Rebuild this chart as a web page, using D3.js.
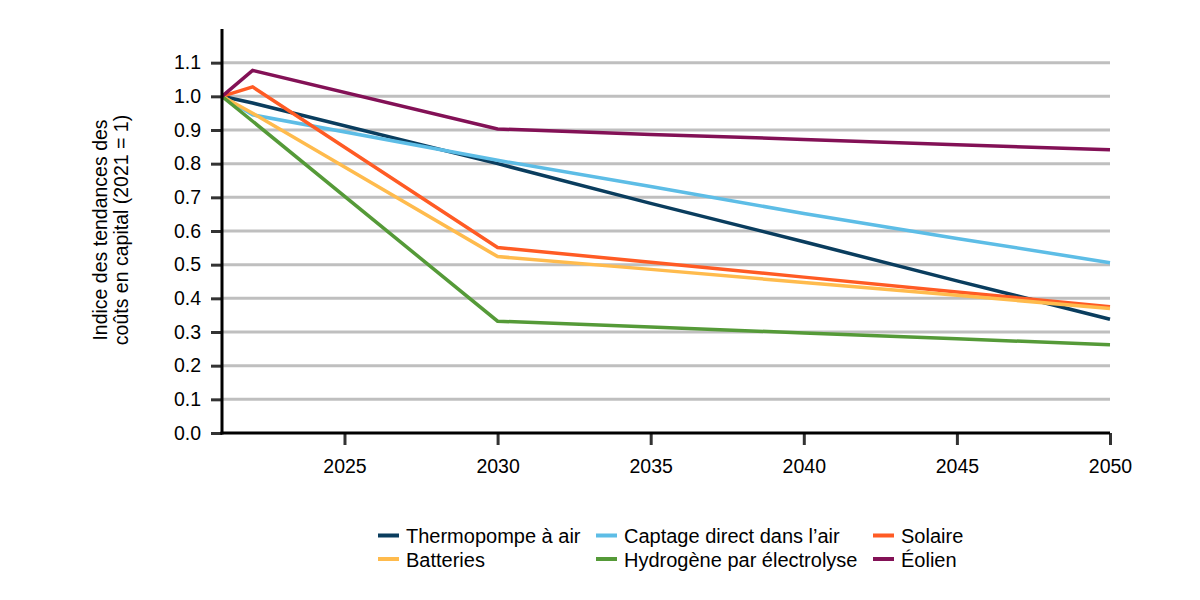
<!DOCTYPE html>
<html><head><meta charset="utf-8">
<script src="https://cdn.jsdelivr.net/npm/d3@7"></script>
<style>body{margin:0;background:#fff}svg{font-family:"Liberation Sans",Arial,sans-serif}</style>
</head><body><svg id="c" width="1200" height="600"></svg>
<script>
const years = [2021, 2022, 2030, 2035, 2040, 2045, 2050];
const seriesNames = ["Thermopompe à air","Captage direct dans l’air","Solaire","Batteries","Hydrogène par électrolyse","Éolien"];
const thermopompe = [1.0, 0.98, 0.80, 0.682, 0.568, 0.452, 0.338];
const captage     = [1.0, 0.945, 0.81, 0.732, 0.652, 0.578, 0.506];
const solaire     = [1.0, 1.028, 0.551, 0.507, 0.463, 0.419, 0.375];
const batteries   = [1.0, 0.95, 0.524, 0.486, 0.447, 0.409, 0.37];
const hydrogene   = [1.0, 0.926, 0.332, 0.315, 0.297, 0.28, 0.262];
const eolien      = [1.0, 1.077, 0.903, 0.887, 0.872, 0.856, 0.841];
const colors = ["#0a3d5e","#5dbde6","#ff5b24","#ffbb4d","#559a38","#831156"];
const yTicks = [0,0.1,0.2,0.3,0.4,0.5,0.6,0.7,0.8,0.9,1.0,1.1];
const xTicks = [2025,2030,2035,2040,2045,2050];

const data = [thermopompe,captage,solaire,batteries,hydrogene,eolien];
const svg = d3.select("#c");
const x = d3.scaleLinear().domain([2021,2050]).range([222,1110]);
const y = d3.scaleLinear().domain([0,1.2]).range([433,29]);
const FS = 19.5;

// gridlines
svg.append("g").selectAll("line").data(yTicks.filter(d=>d>0)).join("line")
  .attr("x1",x(2021)).attr("x2",x(2050)).attr("y1",d=>y(d)).attr("y2",d=>y(d))
  .attr("stroke","#bfbfbf").attr("stroke-width",3);

// y axis
const ya = svg.append("g").attr("transform",`translate(${x(2021)},0)`)
  .call(d3.axisLeft(y).tickValues(yTicks).tickFormat(d3.format(".1f")).tickSize(11).tickPadding(10));
ya.select(".domain").remove();
ya.selectAll(".tick line").attr("stroke","#333").attr("stroke-width",3);
ya.selectAll(".tick text").attr("font-size",FS).attr("fill","#000").attr("font-family","Liberation Sans, Arial, sans-serif");

// x axis
const xa = svg.append("g").attr("transform",`translate(0,${y(0)})`)
  .call(d3.axisBottom(x).tickValues(xTicks).tickFormat(d3.format("d")).tickSize(12).tickPadding(14));
xa.select(".domain").remove();
xa.selectAll(".tick line").attr("stroke","#333").attr("stroke-width",3);
xa.selectAll(".tick text").attr("font-size",FS).attr("fill","#000").attr("font-family","Liberation Sans, Arial, sans-serif");

// lines
const line = d3.line().x((d,i)=>x(years[i])).y(d=>y(d));
svg.append("g").selectAll("path").data(data).join("path")
  .attr("d",line).attr("fill","none").attr("stroke",(d,i)=>colors[i]).attr("stroke-width",3.5)
  .attr("stroke-linejoin","miter");

// axis lines
svg.append("line").attr("x1",x(2021)).attr("x2",x(2021)).attr("y1",y(1.2)).attr("y2",y(0)+1.5)
  .attr("stroke","#000").attr("stroke-width",3);
svg.append("line").attr("x1",x(2021)-1.5).attr("x2",x(2050)).attr("y1",y(0)).attr("y2",y(0))
  .attr("stroke","#000").attr("stroke-width",3);

// y title
const t = svg.append("text").attr("transform","translate(107,230) rotate(-90)")
  .attr("text-anchor","middle").attr("font-size",FS).attr("fill","#000");
t.append("tspan").attr("x",0).attr("y",0).text("Indice des tendances des");
t.append("tspan").attr("x",0).attr("y",21).text("coûts en capital (2021 = 1)");

// legend
const legX = [378, 596, 873];
const legY = [535.5, 559];
const lg = svg.append("g");
seriesNames.forEach((name,k)=>{
  const col = k%3, row = Math.floor(k/3);
  lg.append("rect").attr("x",legX[col]).attr("y",legY[row]-2).attr("width",21).attr("height",4).attr("fill",colors[k]);
  lg.append("text").attr("x",legX[col]+28).attr("y",legY[row]+7.5)
    .attr("font-size",FS+0.5).attr("fill","#000").text(name);
});
</script></body></html>
